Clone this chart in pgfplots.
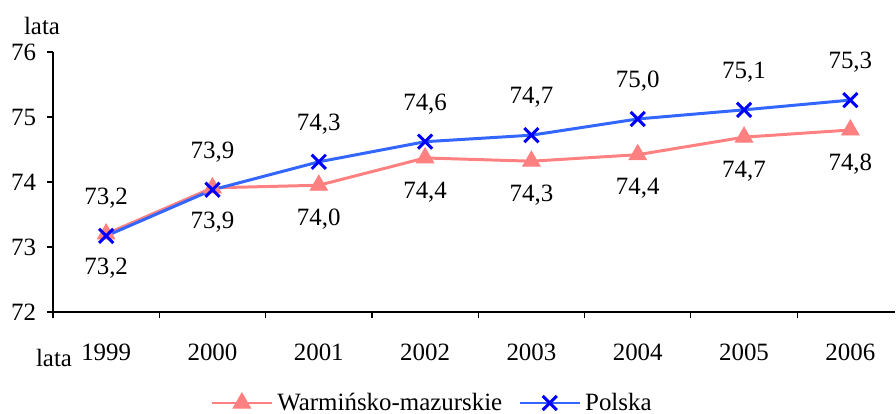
\documentclass[border=0pt]{standalone}
\usepackage{pgfplots}
\pgfplotsset{compat=1.18}
\usepackage{fontspec}
\setmainfont{Liberation Serif}
\newfontfamily\ser{Liberation Serif}
\definecolor{warm}{HTML}{FF8080}
\definecolor{polline}{HTML}{3366FF}
\definecolor{polmark}{HTML}{0000FF}
\newcommand{\fs}{\ser\fontsize{12.5}{15}\selectfont}
\begin{document}
\begin{tikzpicture}
\path[use as bounding box] (-26.5bp,-51bp) rectangle (421.5bp,156bp);
\begin{axis}[
  name=ax,
  at={(0,0)}, anchor=south west,
  scale only axis,
  width=421bp, height=130bp,
  xmin=-0.5, xmax=7.42,
  ymin=72, ymax=76,
  axis lines*=left,
  axis line style={black, line width=0.6pt},
  clip=false,
  xtick={0,...,7},
  xticklabels={1999,2000,2001,2002,2003,2004,2005,2006},
  minor xtick={-0.5,0.5,...,6.5},
  ytick={72,73,74,75,76},
  tick align=outside,
  major tick length=3bp,
  minor tick length=3bp,
  x tick style={draw=none},
  minor x tick style={draw=black, line width=0.6pt},
  y tick style={black, line width=0.6pt},
  tick label style={font=\fs, text=black},
  /pgf/number format/assume math mode=true,
  yticklabel style={xshift=-2bp},
  xticklabel style={yshift=-9.5bp},
  legend columns=2,
  legend style={draw=none, fill=none, at={(190bp,-45.5bp)}, anchor=center, font=\fs,
    /tikz/every even column/.append style={column sep=6bp},
    inner sep=0pt},
  legend cell align=left,
  nodes near coords,
  point meta=explicit symbolic,
]
\addplot[color=warm, line width=1.5pt, mark=triangle*, mark size=5bp,
  mark options={fill=warm, draw=warm, line width=0.5pt},
  every node near coord/.append style={font=\fs, text=black, anchor=center, yshift=-17bp},
  legend image code/.code={\draw[mark repeat=2,mark phase=2] plot coordinates {(0bp,0bp)(15bp,0bp)(30bp,0bp)};}
] table[meta=lab] {
x y lab
0 73.20 73,2
1 73.91 73,9
2 73.95 74,0
3 74.37 74,4
4 74.32 74,3
5 74.42 74,4
6 74.69 74,7
7 74.80 74,8
};
\addlegendentry{Warmińsko-mazurskie}
\addplot[color=polline, line width=1.5pt, mark=x, mark size=5bp,
  mark options={draw=polmark, line width=1.5pt},
  every node near coord/.append style={font=\fs, text=black, anchor=center, yshift=19bp},
  legend image code/.code={\draw[mark repeat=2,mark phase=2] plot coordinates {(0bp,0bp)(15bp,0bp)(30bp,0bp)};}
] table[meta=lab] {
x y lab
0 73.17 73,2
1 73.88 73,9
2 74.31 74,3
3 74.62 74,6
4 74.72 74,7
5 74.97 75,0
6 75.11 75,1
7 75.26 75,3
};
\addlegendentry{Polska}
\end{axis}
\node[font=\fs, anchor=center] at ([shift={(-5.5bp,13bp)}]ax.north west) {lata};
\node[font=\fs, anchor=center] at ([shift={(0.5bp,-23bp)}]ax.south west) {lata};
\end{tikzpicture}
\end{document}
